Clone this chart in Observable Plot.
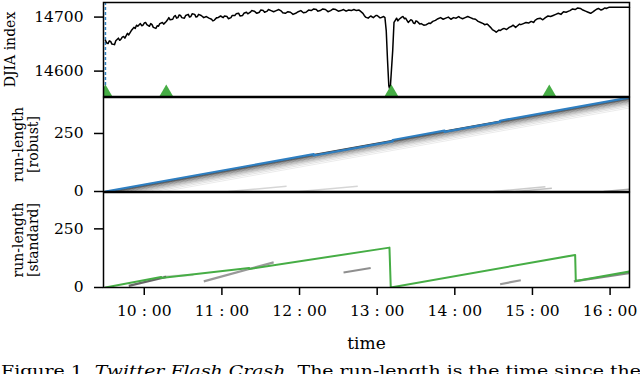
<!DOCTYPE html>
<html>
<head>
<meta charset="utf-8">
<script src="https://cdn.jsdelivr.net/npm/d3@7"></script>
<script src="https://cdn.jsdelivr.net/npm/@observablehq/plot@0.6"></script>
<style>
html,body{margin:0;padding:0;background:#fff;}
#wrap{position:relative;width:640px;height:374px;overflow:hidden;background:#fff;}
#wrap > svg{position:absolute;left:0;}
</style>
</head>
<body>
<div id="wrap"></div>
<script>
// ---------------- data ----------------
// time axis: minutes since 09:30
const xTickMinutes = [30, 90, 150, 210, 270, 330, 390];
const xTickLabels = ["10 : 00", "11 : 00", "12 : 00", "13 : 00", "14 : 00", "15 : 00", "16 : 00"];

// DJIA index: [minute since 09:30, index value]
const djiaSeries = [
[0,14657],[1,14652],[2,14651],[3,14656],[4,14655],[5,14650],[7,14649],[8,14656],[10,14661],[11,14657],[12,14659],[13,14663],[14,14664],[15,14661],[17,14670],[18,14667],[20,14675],[21,14678],[22,14681],[23,14679],[24,14685],[25,14683],[27,14688],[28,14684],[29,14685],[30,14689],[31,14690],[32,14686],[34,14683],[35,14688],[36,14686],[37,14681],[39,14679],[40,14684],[41,14683],[42,14688],[44,14690],[45,14687],[47,14692],[48,14695],[49,14699],[50,14695],[52,14696],[53,14701],[54,14703],[55,14698],[56,14699],[57,14704],[58,14703],[59,14699],[61,14698],[62,14703],[64,14705],[65,14700],[66,14701],[67,14706],[69,14705],[70,14700],[71,14701],[72,14705],[74,14703],[76,14699],[78,14701],[80,14698],[82,14696],[83,14693],[84,14694],[86,14699],[87,14699],[89,14702],[91,14699],[92,14702],[94,14701],[95,14697],[97,14699],[98,14703],[100,14703],[101,14706],[103,14707],[104,14702],[106,14703],[107,14707],[109,14709],[110,14706],[112,14709],[113,14712],[115,14711],[117,14707],[119,14709],[120,14713],[122,14712],[123,14709],[125,14711],[126,14714],[128,14712],[130,14710],[132,14712],[134,14714],[136,14711],[137,14708],[139,14707],[141,14710],[143,14709],[145,14705],[147,14707],[149,14710],[151,14712],[153,14708],[155,14709],[157,14713],[159,14712],[161,14715],[163,14714],[164,14711],[166,14712],[168,14715],[170,14714],[172,14710],[174,14712],[176,14715],[178,14714],[180,14711],[182,14712],[184,14714],[186,14711],[188,14713],[190,14712],[192,14714],[194,14712],[196,14713],[197,14711],[199,14707],[200,14703],[201,14700],[203,14698],[205,14702],[207,14699],[209,14703],[210,14703],[212,14699],[213,14699],[215,14701],[216,14699],[217,14675],[218,14620],[219,14573],[220,14564],[222,14638],[223,14690],[224,14694],[225,14698],[226,14693],[227,14696],[229,14700],[230,14701],[231,14697],[232,14698],[233,14694],[234,14690],[236,14695],[237,14694],[238,14689],[239,14688],[240,14693],[241,14692],[243,14687],[244,14688],[246,14685],[248,14686],[250,14689],[251,14688],[253,14692],[255,14694],[257,14697],[259,14699],[261,14696],[263,14698],[265,14700],[267,14696],[269,14699],[271,14698],[273,14701],[274,14699],[276,14697],[278,14699],[280,14701],[282,14699],[284,14697],[286,14696],[288,14692],[290,14690],[292,14688],[293,14686],[295,14687],[296,14685],[298,14680],[299,14677],[301,14674],[302,14672],[304,14676],[305,14675],[307,14678],[308,14679],[310,14677],[312,14681],[314,14683],[315,14685],[317,14681],[318,14683],[320,14687],[321,14686],[323,14688],[325,14690],[327,14689],[329,14692],[331,14690],[332,14694],[334,14697],[336,14698],[338,14695],[340,14699],[342,14702],[344,14701],[346,14703],[348,14705],[350,14707],[352,14705],[354,14710],[356,14709],[358,14711],[359,14712],[361,14715],[363,14714],[365,14717],[367,14716],[369,14713],[371,14711],[373,14709],[375,14707],[377,14710],[378,14712],[380,14715],[381,14716],[383,14713],[384,14714],[386,14717],[387,14716],[389,14718],[390,14718],[405,14718]
];
const yTicksDjia = [14600, 14700];

// detected changepoints (triangles)
const changepointMinutes = [0, 47, 221, 343];
const robustStartMinute = [0];

// robust run-length MAP
const robustMapMinute = [0, 161, 161, 222, 222, 262, 262, 305, 305, 405];
const robustMapRunLength = [0, 161, 155, 216, 222, 262, 257, 300, 305, 405];
// run-length posterior: secondary trajectories (start minute, probability)
const robustShadeStart = [1, 2, 4, 6, 8, 10, 13, 16, 19, 23, 27, 32, 38, 45];
const robustShadeProb = [0.7, 0.65, 0.6, 0.55, 0.5, 0.45, 0.42, 0.38, 0.34, 0.3, 0.26, 0.2, 0.15, 0.1];
// short-lived low run-length mass (start minute, end minute, probability)
const robustLowStart = [95, 150, 300, 385, 317];
const robustLowEnd = [140, 195, 340, 405, 345];
const robustLowProb = [0.2, 0.2, 0.25, 0.4, 0.3];

// standard run-length MAP
const stdMapMinute = [0, 43, 43, 111, 111, 219.5, 220.5, 363, 363.5, 405];
const stdMapRunLength = [0, 45, 41, 83, 79, 170, 0, 139, 28, 68];
// standard posterior streaks
const stdShadeT0 = [18, 76, 45, 184, 305, 362];
const stdShadeR0 = [7, 26, 46, 64, 14, 26];
const stdShadeT1 = [47, 130, 68, 205, 321, 405];
const stdShadeR1 = [45, 107, 54, 83, 31, 62];
const stdShadeProb = [0.75, 0.5, 0.2, 0.55, 0.5, 0.6];

// ---------------- drawing ----------------
const BLUE = "#2f7fc1";
const GREEN = "#46ad45";
const FONT = "DejaVu Serif";
const xDomain = [-1.5, 405];
const ML = 103, MR = 11, W = 640;
const rlDomain = [0, 405];

const djia = djiaSeries.map(([t, v]) => ({t, v}));
const robustMap = robustMapMinute.map((t, i) => ({t, r: robustMapRunLength[i]}));
const stdMap = stdMapMinute.map((t, i) => ({t, r: stdMapRunLength[i]}));
const robustShade = robustShadeStart.map((s, i) => ({t0: s, r0: 0, t1: rlDomain[1], r1: rlDomain[1] - s, p: robustShadeProb[i]}));
const robustLow = robustLowStart.map((s, i) => ({t0: s, r0: 0, t1: robustLowEnd[i], r1: (robustLowEnd[i] - s) * 0.5, p: robustLowProb[i]}));
const stdShade = stdShadeT0.map((t0, i) => ({t0, r0: stdShadeR0[i], t1: stdShadeT1[i], r1: stdShadeR1[i], p: stdShadeProb[i]}));

const baseStyle = {background: "transparent", overflow: "visible", fontFamily: FONT, color: "black"};
const wrap = document.getElementById("wrap");
function place(svg, top) { svg.style.top = top + "px"; wrap.appendChild(svg); }

const yLabel = (txt, dx) => Plot.text([txt], {frameAnchor: "left", textAnchor: "middle", lineAnchor: "middle", dx, rotate: -90, fontSize: 14, lineHeight: 1.12, fill: "black"});
const yAxis = (ticks) => Plot.axisY(ticks, {tickSize: 9, tickPadding: 11, fontSize: 15.5, label: null, strokeWidth: 1.5, tickFormat: d => String(d)});

// Panel 1: DJIA
const p1 = Plot.plot({
  width: W, height: 97, marginTop: 2, marginBottom: 1, marginLeft: ML, marginRight: MR,
  x: {domain: xDomain, axis: null},
  y: {domain: [14553, 14727], axis: null},
  style: baseStyle,
  marks: [
    Plot.ruleX(robustStartMinute, {stroke: BLUE, strokeWidth: 1.5, strokeDasharray: "3,2"}),
    Plot.line(djia, {x: "t", y: "v", stroke: "black", strokeWidth: 1.5}),
    Plot.dot(changepointMinutes, {x: d => d, frameAnchor: "bottom", symbol: "triangle", r: 5.2, fill: GREEN, stroke: "none", dy: -4, clip: true}),
    yAxis(yTicksDjia),
    yLabel("DJIA index", -94),
    Plot.frame({stroke: "black", strokeWidth: 1.5})
  ]
});
place(p1, 0);

// Panel 2: robust run-length
const p2 = Plot.plot({
  width: W, height: 96, marginTop: 1, marginBottom: 1, marginLeft: ML, marginRight: MR,
  x: {domain: xDomain, axis: null},
  y: {domain: rlDomain, axis: null},
  style: baseStyle,
  marks: [
    Plot.link(robustShade, {x1: "t0", y1: "r0", x2: "t1", y2: "r1", stroke: "#222", strokeOpacity: "p", strokeWidth: 0.9, clip: true}),
    Plot.link(robustLow, {x1: "t0", y1: "r0", x2: "t1", y2: "r1", stroke: "#333", strokeOpacity: "p", strokeWidth: 1.5, clip: true}),
    Plot.line(robustMap, {x: "t", y: "r", stroke: BLUE, strokeWidth: 2.2, clip: true}),
    yAxis([0, 250]),
    yLabel("run-length\n[robust]", -78),
    Plot.frame({stroke: "black", strokeWidth: 1.5})
  ]
});
place(p2, 96);

// Panel 3: standard run-length
const p3 = Plot.plot({
  width: W, height: 166, marginTop: 1, marginBottom: 70, marginLeft: ML, marginRight: MR,
  x: {domain: xDomain, axis: null},
  y: {domain: rlDomain, axis: null},
  style: baseStyle,
  marks: [
    Plot.link(stdShade, {x1: "t0", y1: "r0", x2: "t1", y2: "r1", stroke: "#333", strokeOpacity: "p", strokeWidth: 2.2, clip: true}),
    Plot.line(stdMap, {x: "t", y: "r", stroke: GREEN, strokeWidth: 2, clip: true}),
    yAxis([0, 250]),
    Plot.axisX(xTickMinutes, {tickSize: 8, tickPadding: 9, fontSize: 15.5, label: null, strokeWidth: 1.5,
      tickFormat: d => xTickLabels[xTickMinutes.indexOf(d)]}),
    Plot.text(["time"], {frameAnchor: "bottom", dy: 56, fontSize: 17, lineAnchor: "middle", fill: "black"}),
    yLabel("run-length\n[standard]", -78),
    Plot.frame({stroke: "black", strokeWidth: 1.5})
  ]
});
place(p3, 191);

// caption (cut by the bottom edge, as in the reference)
const ns = "http://www.w3.org/2000/svg";
const cap = document.createElementNS(ns, "svg");
cap.setAttribute("width", 640); cap.setAttribute("height", 30);
cap.style.top = "358px"; cap.style.overflow = "visible";
const t = document.createElementNS(ns, "text");
t.setAttribute("x", 1); t.setAttribute("y", 18);
t.setAttribute("font-family", FONT); t.setAttribute("font-size", 15.5);
t.setAttribute("textLength", 640); t.setAttribute("lengthAdjust", "spacingAndGlyphs");
const parts = [["Figure 1. ", "normal"], ["Twitter Flash Crash", "italic"], [". The run-length is the time since the", "normal"]];
for (const [s, st] of parts) { const ts = document.createElementNS(ns, "tspan"); ts.setAttribute("font-style", st); ts.textContent = s; t.appendChild(ts); }
cap.appendChild(t);
wrap.appendChild(cap);
</script>
</body>
</html>
